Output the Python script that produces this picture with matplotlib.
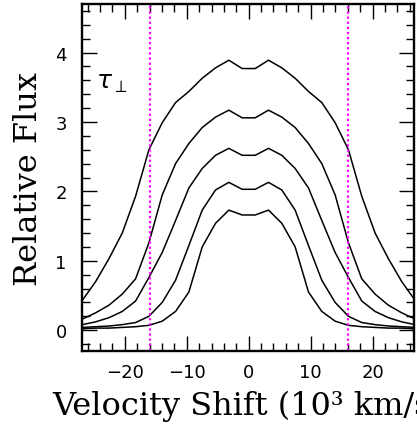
import matplotlib
matplotlib.use('Agg')
import matplotlib.pyplot as plt
from matplotlib.ticker import MultipleLocator

# velocity grid (10^3 km/s)
vel = [-29.0, -26.85, -24.7, -22.55, -20.4, -18.25, -16.1, -13.95, -11.8, -9.65, -7.5, -5.35, -3.2, -1.05,
       1.05, 3.2, 5.35, 7.5, 9.65, 11.8, 13.95, 16.1, 18.25, 20.4, 22.55, 24.7, 26.85, 29.0]

# relative flux profiles, top to bottom
flux1 = [0.25, 0.43, 0.70, 1.03, 1.40, 1.93, 2.60, 2.99, 3.28, 3.44, 3.63, 3.78, 3.89, 3.77,
         3.77, 3.89, 3.78, 3.63, 3.44, 3.28, 2.99, 2.60, 1.93, 1.40, 1.03, 0.70, 0.43, 0.25]
flux2 = [0.10, 0.16, 0.25, 0.36, 0.52, 0.74, 1.26, 1.95, 2.40, 2.69, 2.92, 3.07, 3.17, 3.06,
         3.06, 3.17, 3.07, 2.92, 2.69, 2.40, 1.95, 1.26, 0.74, 0.52, 0.36, 0.25, 0.16, 0.10]
flux3 = [0.06, 0.08, 0.12, 0.18, 0.27, 0.42, 0.76, 1.12, 1.58, 2.05, 2.33, 2.52, 2.62, 2.52,
         2.52, 2.62, 2.52, 2.33, 2.05, 1.58, 1.12, 0.76, 0.42, 0.27, 0.18, 0.12, 0.08, 0.06]
flux4 = [0.03, 0.04, 0.05, 0.06, 0.08, 0.11, 0.20, 0.40, 0.72, 1.22, 1.73, 2.02, 2.13, 2.03,
         2.03, 2.13, 2.02, 1.73, 1.22, 0.72, 0.40, 0.20, 0.11, 0.08, 0.06, 0.05, 0.04, 0.03]
flux5 = [0.02, 0.02, 0.03, 0.03, 0.04, 0.05, 0.07, 0.13, 0.27, 0.55, 1.20, 1.54, 1.73, 1.66,
         1.66, 1.73, 1.54, 1.20, 0.55, 0.27, 0.13, 0.07, 0.05, 0.04, 0.03, 0.03, 0.02, 0.02]
profiles = [flux1, flux2, flux3, flux4, flux5]

vmark = [-16, 16]

fig = plt.figure(figsize=(4.17, 4.31), dpi=100)
ax = fig.add_axes([82 / 417, 1 - 352 / 431, (413.5 - 82) / 417, (352 - 5) / 431])

for f in profiles:
    ax.plot(vel, f, color='black', lw=1.1)
for v in vmark:
    ax.axvline(v, color='#ff00ff', lw=1.6, ls=(0, (1, 1.3)))

ax.text(-24.6, 3.58, r'$\tau_{\perp}$', fontsize=18, va='center', ha='left')

ax.set_xlim(-26.9, 26.6)
ax.set_ylim(-0.3, 4.7)
ax.xaxis.set_major_locator(MultipleLocator(10))
ax.xaxis.set_minor_locator(MultipleLocator(2))
ax.yaxis.set_major_locator(MultipleLocator(1))
ax.yaxis.set_minor_locator(MultipleLocator(0.2))
ax.tick_params(which='both', direction='in', top=True, right=True, width=1.0, labelsize=13)
ax.tick_params(which='major', length=10.5)
ax.tick_params(which='minor', length=5.5)
ax.tick_params(axis='x', pad=9)
ax.tick_params(axis='y', pad=11)
for s in ax.spines.values():
    s.set_linewidth(1.7)

# the reference label runs off the right edge too
ax.set_xlabel('Velocity Shift (10³ km/s)', family='DejaVu Serif', fontsize=23, labelpad=6)
ax.set_ylabel('Relative Flux', family='DejaVu Serif', fontsize=23, labelpad=8)

fig.savefig('out.png', dpi=100)
